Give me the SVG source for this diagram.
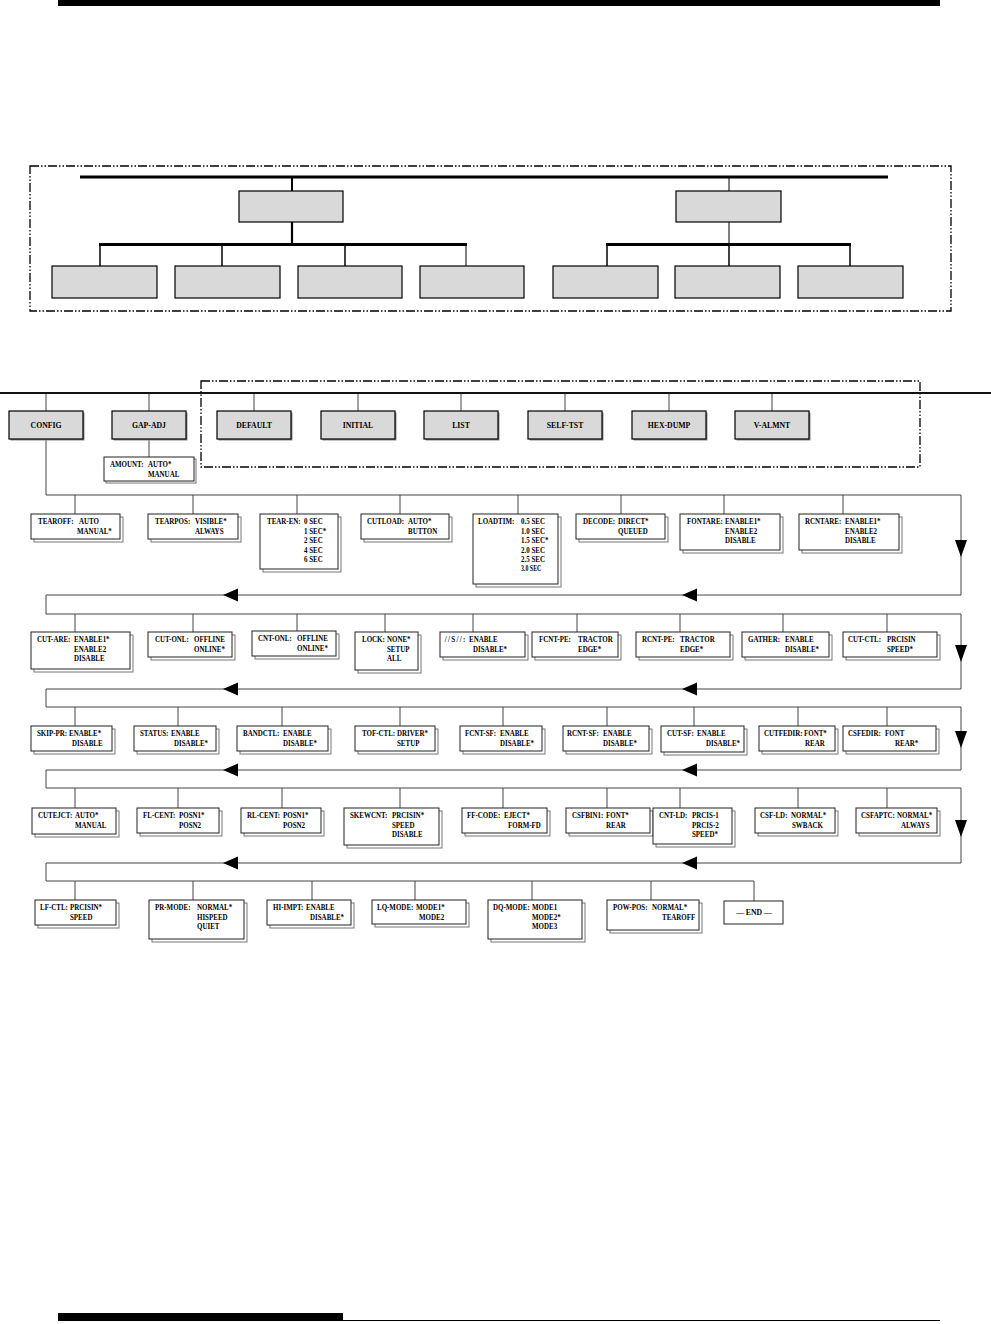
<svg xmlns="http://www.w3.org/2000/svg" width="991" height="1324" viewBox="0 0 991 1324">
<style>
.bx{fill:#fff;stroke:#222;stroke-width:1}
.sh{fill:#fff;stroke:#777;stroke-width:1}
.gb{fill:#d9d9d9;stroke:#000;stroke-width:1.2}
.gs{fill:#8a8a8a}
.t{font-family:"Liberation Serif",serif;font-weight:bold;font-size:8.5px;fill:#000;transform-box:fill-box;transform-origin:0% 50%;transform:scaleX(0.82)}
.h{font-family:"Liberation Serif",serif;font-weight:bold;font-size:8.6px;text-anchor:middle;fill:#000;transform-box:fill-box;transform-origin:50% 50%;transform:scaleX(0.9)}
.ln{stroke:#444;stroke-width:1;fill:none}
.tk{stroke:#000;fill:none}
.dd{fill:none;stroke:#000;stroke-width:1.3;stroke-dasharray:9 2 1.5 2 1.5 2}
.ar{fill:#000}
</style>
<rect x="58" y="0" width="882" height="6" fill="#000"/>
<rect x="58" y="1313" width="285" height="8" fill="#000"/>
<line x1="343" y1="1320.5" x2="940" y2="1320.5" stroke="#000" stroke-width="1"/>

<g id="top-frame">
<rect class="dd" x="30" y="166" width="921" height="145"/>
</g>
<g id="top-connectors">
<line class="tk" stroke-width="3" x1="80" y1="177" x2="888" y2="177"/>
<line class="tk" stroke-width="2" x1="292" y1="177" x2="292" y2="191"/>
<line class="tk" stroke-width="1" x1="729" y1="177" x2="729" y2="191"/>
<line class="tk" stroke-width="2.2" x1="292" y1="222" x2="292" y2="245"/>
<line class="tk" stroke-width="1" x1="729" y1="222" x2="729" y2="245"/>
<line class="tk" stroke-width="3" x1="99" y1="244.5" x2="467" y2="244.5"/>
<line class="tk" stroke-width="3" x1="606" y1="244.5" x2="851" y2="244.5"/>
<line class="tk" stroke-width="1.5" x1="100" y1="245" x2="100" y2="266"/>
<line class="tk" stroke-width="1.5" x1="222" y1="245" x2="222" y2="266"/>
<line class="tk" stroke-width="1.5" x1="345" y1="245" x2="345" y2="266"/>
<line class="tk" stroke-width="1" x1="466" y1="245" x2="466" y2="266"/>
<line class="tk" stroke-width="1.5" x1="607" y1="245" x2="607" y2="266"/>
<line class="tk" stroke-width="1.5" x1="729" y1="245" x2="729" y2="266"/>
<line class="tk" stroke-width="1.5" x1="850" y1="245" x2="850" y2="266"/>
</g>
<g id="top-mid-left"><rect class="gb" x="239" y="191" width="104" height="31"/></g>
<g id="top-mid-right"><rect class="gb" x="676" y="191" width="105" height="31"/></g>
<g id="top-b1"><rect class="gb" x="52" y="266" width="105" height="32"/></g>
<g id="top-b2"><rect class="gb" x="175" y="266" width="105" height="32"/></g>
<g id="top-b3"><rect class="gb" x="298" y="266" width="104" height="32"/></g>
<g id="top-b4"><rect class="gb" x="420" y="266" width="104" height="32"/></g>
<g id="top-b5"><rect class="gb" x="553" y="266" width="105" height="32"/></g>
<g id="top-b6"><rect class="gb" x="675" y="266" width="105" height="32"/></g>
<g id="top-b7"><rect class="gb" x="798" y="266" width="105" height="32"/></g>

<g id="menu-frame"><rect class="dd" x="201" y="381" width="719" height="86"/></g>

<g id="connectors">
<line stroke="#111" stroke-width="2" x1="0" y1="393" x2="991" y2="393"/>
<path class="ln" d="M46 394V411M149 394V411M254 394V411M358 394V411M461 394V411M565 394V411M669 394V411M772 394V411"/>
<path class="ln" d="M149 439V457"/>
<path class="ln" d="M46 439V495H961V595H46V614H961V689H46V707H961V770H46V788H961V863H46V881H754"/>
<path class="ln" d="M75 495V514M193 495V514M297 495V514M400 495V514M518 495V514M621 495V514M724 495V514M843 495V514"/>
<path class="ln" d="M75 614V632M193 614V632M297 614V631M385 614V632M473 614V632M577 614V632M680 614V632M783 614V632M887 614V632"/>
<path class="ln" d="M75 707V726M178 707V726M282 707V726M400 707V726M503 707V726M607 707V726M694 707V726M798 707V726M887 707V726"/>
<path class="ln" d="M75 788V808M178 788V808M282 788V808M400 788V808M503 788V808M607 788V808M680 788V808M798 788V808M887 788V808"/>
<path class="ln" d="M75 881V900M193 881V900M312 881V900M415 881V900M532 881V900M651 881V900M754 881V901"/>
<polygon class="ar" points="955,540 967,540 961,557"/>
<polygon class="ar" points="955,645 967,645 961,662"/>
<polygon class="ar" points="955,731 967,731 961,748"/>
<polygon class="ar" points="955,820 967,820 961,837"/>
<polygon class="ar" points="223,595 238,588.5 238,601.5"/>
<polygon class="ar" points="682,595 697,588.5 697,601.5"/>
<polygon class="ar" points="223,689 238,682.5 238,695.5"/>
<polygon class="ar" points="682,689 697,682.5 697,695.5"/>
<polygon class="ar" points="223,770 238,763.5 238,776.5"/>
<polygon class="ar" points="682,770 697,763.5 697,776.5"/>
<polygon class="ar" points="223,863 238,856.5 238,869.5"/>
<polygon class="ar" points="682,863 697,856.5 697,869.5"/>
</g>

<g id="m-config"><rect class="gs" x="10.5" y="412.5" width="74" height="28"/><rect class="gb" x="9" y="411" width="74" height="28"/><text class="h" x="46" y="428">CONFIG</text></g>
<g id="m-gapadj"><rect class="gs" x="113.5" y="412.5" width="74" height="28"/><rect class="gb" x="112" y="411" width="74" height="28"/><text class="h" x="149" y="428">GAP-ADJ</text></g>
<g id="m-default"><rect class="gs" x="218.5" y="412.5" width="74" height="28"/><rect class="gb" x="217" y="411" width="74" height="28"/><text class="h" x="254" y="428">DEFAULT</text></g>
<g id="m-initial"><rect class="gs" x="322.5" y="412.5" width="74" height="28"/><rect class="gb" x="321" y="411" width="74" height="28"/><text class="h" x="358" y="428">INITIAL</text></g>
<g id="m-list"><rect class="gs" x="425.5" y="412.5" width="74" height="28"/><rect class="gb" x="424" y="411" width="74" height="28"/><text class="h" x="461" y="428">LIST</text></g>
<g id="m-selftst"><rect class="gs" x="529.5" y="412.5" width="74" height="28"/><rect class="gb" x="528" y="411" width="74" height="28"/><text class="h" x="565" y="428">SELF-TST</text></g>
<g id="m-hexdump"><rect class="gs" x="633.5" y="412.5" width="74" height="28"/><rect class="gb" x="632" y="411" width="74" height="28"/><text class="h" x="669" y="428">HEX-DUMP</text></g>
<g id="m-valmnt"><rect class="gs" x="736.5" y="412.5" width="74" height="28"/><rect class="gb" x="735" y="411" width="74" height="28"/><text class="h" x="772" y="428">V-ALMNT</text></g>

<g id="n-amount"><rect class="sh" x="106" y="459" width="90" height="24"/><rect class="bx" x="104" y="457" width="90" height="24"/><text class="t" x="110" y="467.5">AMOUNT:</text><text class="t" x="148" y="467.5">AUTO*</text><text class="t" x="148" y="477">MANUAL</text></g>

<!-- Row 1 -->
<g id="n-tearoff"><rect class="sh" x="34" y="517" width="89" height="25"/><rect class="bx" x="31" y="514" width="89" height="25"/><text class="t" x="38" y="524.5">TEAROFF:</text><text class="t" x="79" y="524.5">AUTO</text><text class="t" x="77" y="534">MANUAL*</text></g>
<g id="n-tearpos"><rect class="sh" x="151" y="517" width="90" height="25"/><rect class="bx" x="148" y="514" width="90" height="25"/><text class="t" x="155" y="524.5">TEARPOS:</text><text class="t" x="195" y="524.5">VISIBLE*</text><text class="t" x="195" y="534">ALWAYS</text></g>
<g id="n-tearen"><rect class="sh" x="263" y="517" width="78" height="55"/><rect class="bx" x="260" y="514" width="78" height="55"/><text class="t" x="267" y="524.5">TEAR-EN:</text><text class="t" x="304" y="524.5">0 SEC</text><text class="t" x="304" y="534">1 SEC*</text><text class="t" x="304" y="543.5">2 SEC</text><text class="t" x="304" y="553">4 SEC</text><text class="t" x="304" y="562.5">6 SEC</text></g>
<g id="n-cutload"><rect class="sh" x="364" y="517" width="88" height="25"/><rect class="bx" x="361" y="514" width="88" height="25"/><text class="t" x="367" y="524.5">CUTLOAD:</text><text class="t" x="408" y="524.5">AUTO*</text><text class="t" x="408" y="534">BUTTON</text></g>
<g id="n-loadtim"><rect class="sh" x="476" y="517" width="85" height="70"/><rect class="bx" x="473" y="514" width="85" height="70"/><text class="t" x="478" y="524.5">LOADTIM:</text><text class="t" x="521" y="524.5">0.5 SEC</text><text class="t" x="521" y="534">1.0 SEC</text><text class="t" x="521" y="543.5">1.5 SEC*</text><text class="t" x="521" y="553">2.0 SEC</text><text class="t" x="521" y="562.5">2.5 SEC</text><text class="t" x="521" y="571.5" style="font-size:7.2px">3.0 SEC</text></g>
<g id="n-decode"><rect class="sh" x="579" y="517" width="89" height="25"/><rect class="bx" x="576" y="514" width="89" height="25"/><text class="t" x="583" y="524.5">DECODE:</text><text class="t" x="618" y="524.5">DIRECT*</text><text class="t" x="618" y="534">QUEUED</text></g>
<g id="n-fontare"><rect class="sh" x="683" y="517" width="100" height="36"/><rect class="bx" x="680" y="514" width="100" height="36"/><text class="t" x="687" y="524.5">FONTARE:</text><text class="t" x="725" y="524.5">ENABLE1*</text><text class="t" x="725" y="534">ENABLE2</text><text class="t" x="725" y="543.5">DISABLE</text></g>
<g id="n-rcntare"><rect class="sh" x="802" y="517" width="100" height="36"/><rect class="bx" x="799" y="514" width="100" height="36"/><text class="t" x="805" y="524.5">RCNTARE:</text><text class="t" x="845" y="524.5">ENABLE1*</text><text class="t" x="845" y="534">ENABLE2</text><text class="t" x="845" y="543.5">DISABLE</text></g>

<!-- Row 2 -->
<g id="n-cutare"><rect class="sh" x="34" y="635" width="99" height="37"/><rect class="bx" x="31" y="632" width="99" height="37"/><text class="t" x="37" y="642.5">CUT-ARE:</text><text class="t" x="74" y="642.5">ENABLE1*</text><text class="t" x="74" y="652">ENABLE2</text><text class="t" x="74" y="661.5">DISABLE</text></g>
<g id="n-cutonl"><rect class="sh" x="151" y="635" width="84" height="25"/><rect class="bx" x="148" y="632" width="84" height="25"/><text class="t" x="155" y="642.5">CUT-ONL:</text><text class="t" x="194" y="642.5">OFFLINE</text><text class="t" x="194" y="652">ONLINE*</text></g>
<g id="n-cntonl"><rect class="sh" x="255" y="634" width="84" height="25"/><rect class="bx" x="252" y="631" width="84" height="25"/><text class="t" x="258" y="641.5">CNT-ONL:</text><text class="t" x="297" y="641.5">OFFLINE</text><text class="t" x="297" y="651">ONLINE*</text></g>
<g id="n-lock"><rect class="sh" x="358" y="635" width="63" height="38"/><rect class="bx" x="355" y="632" width="63" height="38"/><text class="t" x="362" y="642.5">LOCK:</text><text class="t" x="387" y="642.5">NONE*</text><text class="t" x="387" y="652">SETUP</text><text class="t" x="387" y="661.5">ALL</text></g>
<g id="n-s"><rect class="sh" x="443" y="635" width="85" height="25"/><rect class="bx" x="440" y="632" width="85" height="25"/><text class="t" x="445" y="642.5" style="letter-spacing:1.6px">//S//:</text><text class="t" x="469" y="642.5">ENABLE</text><text class="t" x="473" y="652">DISABLE*</text></g>
<g id="n-fcntpe"><rect class="sh" x="535" y="635" width="86" height="25"/><rect class="bx" x="532" y="632" width="86" height="25"/><text class="t" x="539" y="642.5">FCNT-PE:</text><text class="t" x="578" y="642.5">TRACTOR</text><text class="t" x="578" y="652">EDGE*</text></g>
<g id="n-rcntpe"><rect class="sh" x="639" y="635" width="94" height="25"/><rect class="bx" x="636" y="632" width="94" height="25"/><text class="t" x="642" y="642.5">RCNT-PE:</text><text class="t" x="680" y="642.5">TRACTOR</text><text class="t" x="680" y="652">EDGE*</text></g>
<g id="n-gather"><rect class="sh" x="745" y="635" width="87" height="25"/><rect class="bx" x="742" y="632" width="87" height="25"/><text class="t" x="748" y="642.5">GATHER:</text><text class="t" x="785" y="642.5">ENABLE</text><text class="t" x="785" y="652">DISABLE*</text></g>
<g id="n-cutctl"><rect class="sh" x="846" y="635" width="94" height="25"/><rect class="bx" x="843" y="632" width="94" height="25"/><text class="t" x="848" y="642.5">CUT-CTL:</text><text class="t" x="887" y="642.5">PRCISIN</text><text class="t" x="887" y="652">SPEED*</text></g>

<!-- Row 3 -->
<g id="n-skippr"><rect class="sh" x="34" y="729" width="81" height="25"/><rect class="bx" x="31" y="726" width="81" height="25"/><text class="t" x="37" y="736.5">SKIP-PR:</text><text class="t" x="69" y="736.5">ENABLE*</text><text class="t" x="72" y="746">DISABLE</text></g>
<g id="n-status"><rect class="sh" x="137" y="729" width="82" height="25"/><rect class="bx" x="134" y="726" width="82" height="25"/><text class="t" x="140" y="736.5">STATUS:</text><text class="t" x="171" y="736.5">ENABLE</text><text class="t" x="174" y="746">DISABLE*</text></g>
<g id="n-bandctl"><rect class="sh" x="240" y="729" width="91" height="25"/><rect class="bx" x="237" y="726" width="91" height="25"/><text class="t" x="243" y="736.5">BANDCTL:</text><text class="t" x="283" y="736.5">ENABLE</text><text class="t" x="283" y="746">DISABLE*</text></g>
<g id="n-tofctl"><rect class="sh" x="358" y="729" width="80" height="25"/><rect class="bx" x="355" y="726" width="80" height="25"/><text class="t" x="362" y="736.5">TOF-CTL:</text><text class="t" x="397" y="736.5">DRIVER*</text><text class="t" x="397" y="746">SETUP</text></g>
<g id="n-fcntsf"><rect class="sh" x="463" y="729" width="82" height="25"/><rect class="bx" x="460" y="726" width="82" height="25"/><text class="t" x="465" y="736.5">FCNT-SF:</text><text class="t" x="500" y="736.5">ENABLE</text><text class="t" x="500" y="746">DISABLE*</text></g>
<g id="n-rcntsf"><rect class="sh" x="566" y="729" width="86" height="25"/><rect class="bx" x="563" y="726" width="86" height="25"/><text class="t" x="567" y="736.5">RCNT-SF:</text><text class="t" x="603" y="736.5">ENABLE</text><text class="t" x="603" y="746">DISABLE*</text></g>
<g id="n-cutsf"><rect class="sh" x="664" y="729" width="83" height="26"/><rect class="bx" x="661" y="726" width="83" height="26"/><text class="t" x="667" y="736.5">CUT-SF:</text><text class="t" x="697" y="736.5">ENABLE</text><text class="t" x="706" y="746.5">DISABLE*</text></g>
<g id="n-cutfedir"><rect class="sh" x="762" y="729" width="76" height="25"/><rect class="bx" x="759" y="726" width="76" height="25"/><text class="t" x="764" y="736.5">CUTFEDIR:</text><text class="t" x="804" y="736.5">FONT*</text><text class="t" x="805" y="746">REAR</text></g>
<g id="n-csfedir"><rect class="sh" x="846" y="729" width="93" height="25"/><rect class="bx" x="843" y="726" width="93" height="25"/><text class="t" x="848" y="736.5">CSFEDIR:</text><text class="t" x="885" y="736.5">FONT</text><text class="t" x="895" y="746">REAR*</text></g>

<!-- Row 4 -->
<g id="n-cutejct"><rect class="sh" x="35" y="811" width="84" height="26"/><rect class="bx" x="32" y="808" width="84" height="26"/><text class="t" x="38" y="818.5">CUTEJCT:</text><text class="t" x="75" y="818.5">AUTO*</text><text class="t" x="75" y="828">MANUAL</text></g>
<g id="n-flcent"><rect class="sh" x="140" y="811" width="82" height="25"/><rect class="bx" x="137" y="808" width="82" height="25"/><text class="t" x="143" y="818.5">FL-CENT:</text><text class="t" x="179" y="818.5">POSN1*</text><text class="t" x="179" y="828">POSN2</text></g>
<g id="n-rlcent"><rect class="sh" x="244" y="811" width="80" height="25"/><rect class="bx" x="241" y="808" width="80" height="25"/><text class="t" x="247" y="818.5">RL-CENT:</text><text class="t" x="283" y="818.5">POSN1*</text><text class="t" x="283" y="828">POSN2</text></g>
<g id="n-skewcnt"><rect class="sh" x="347" y="811" width="95" height="37"/><rect class="bx" x="344" y="808" width="95" height="37"/><text class="t" x="350" y="818.5">SKEWCNT:</text><text class="t" x="392" y="818.5">PRCISIN*</text><text class="t" x="392" y="828">SPEED</text><text class="t" x="392" y="837.5">DISABLE</text></g>
<g id="n-ffcode"><rect class="sh" x="465" y="811" width="85" height="25"/><rect class="bx" x="462" y="808" width="85" height="25"/><text class="t" x="467" y="818.5">FF-CODE:</text><text class="t" x="504" y="818.5">EJECT*</text><text class="t" x="508" y="828">FORM-FD</text></g>
<g id="n-csfbin1"><rect class="sh" x="569" y="811" width="84" height="25"/><rect class="bx" x="566" y="808" width="84" height="25"/><text class="t" x="572" y="818.5">CSFBIN1:</text><text class="t" x="606" y="818.5">FONT*</text><text class="t" x="606" y="828">REAR</text></g>
<g id="n-cntld"><rect class="sh" x="656" y="811" width="79" height="36"/><rect class="bx" x="653" y="808" width="79" height="36"/><text class="t" x="659" y="818.5">CNT-LD:</text><text class="t" x="692" y="818.5">PRCIS-1</text><text class="t" x="692" y="828">PRCIS-2</text><text class="t" x="692" y="837.5">SPEED*</text></g>
<g id="n-csfld"><rect class="sh" x="758" y="811" width="80" height="25"/><rect class="bx" x="755" y="808" width="80" height="25"/><text class="t" x="760" y="818.5">CSF-LD:</text><text class="t" x="791" y="818.5">NORMAL*</text><text class="t" x="792" y="828">SWBACK</text></g>
<g id="n-csfaptc"><rect class="sh" x="859" y="811" width="81" height="25"/><rect class="bx" x="856" y="808" width="81" height="25"/><text class="t" x="861" y="818.5">CSFAPTC:</text><text class="t" x="897" y="818.5">NORMAL*</text><text class="t" x="901" y="828">ALWAYS</text></g>

<!-- Row 5 -->
<g id="n-lfctl"><rect class="sh" x="38" y="903" width="81" height="25"/><rect class="bx" x="35" y="900" width="81" height="25"/><text class="t" x="40" y="910.5">LF-CTL:</text><text class="t" x="70" y="910.5">PRCISIN*</text><text class="t" x="70" y="920">SPEED</text></g>
<g id="n-prmode"><rect class="sh" x="152" y="903" width="95" height="39"/><rect class="bx" x="149" y="900" width="95" height="39"/><text class="t" x="155" y="910.5">PR-MODE:</text><text class="t" x="197" y="910.5">NORMAL*</text><text class="t" x="197" y="920">HISPEED</text><text class="t" x="197" y="929.5">QUIET</text></g>
<g id="n-hiimpt"><rect class="sh" x="270" y="903" width="84" height="25"/><rect class="bx" x="267" y="900" width="84" height="25"/><text class="t" x="273" y="910.5">HI-IMPT:</text><text class="t" x="306" y="910.5">ENABLE</text><text class="t" x="310" y="920">DISABLE*</text></g>
<g id="n-lqmode"><rect class="sh" x="375" y="903" width="94" height="24"/><rect class="bx" x="372" y="900" width="94" height="24"/><text class="t" x="377" y="910.5">LQ-MODE:</text><text class="t" x="416" y="910.5">MODE1*</text><text class="t" x="419" y="920">MODE2</text></g>
<g id="n-dqmode"><rect class="sh" x="491" y="903" width="94" height="39"/><rect class="bx" x="488" y="900" width="94" height="39"/><text class="t" x="493" y="910.5">DQ-MODE:</text><text class="t" x="532" y="910.5">MODE1</text><text class="t" x="532" y="920">MODE2*</text><text class="t" x="532" y="929.5">MODE3</text></g>
<g id="n-powpos"><rect class="sh" x="610" y="903" width="92" height="30"/><rect class="bx" x="607" y="900" width="92" height="30"/><text class="t" x="613" y="910.5">POW-POS:</text><text class="t" x="652" y="910.5">NORMAL*</text><text class="t" x="662" y="920">TEAROFF</text></g>
<g id="n-end"><rect class="bx" x="724" y="901" width="59" height="23"/><text class="h" x="754" y="915">— END —</text></g>
</svg>
